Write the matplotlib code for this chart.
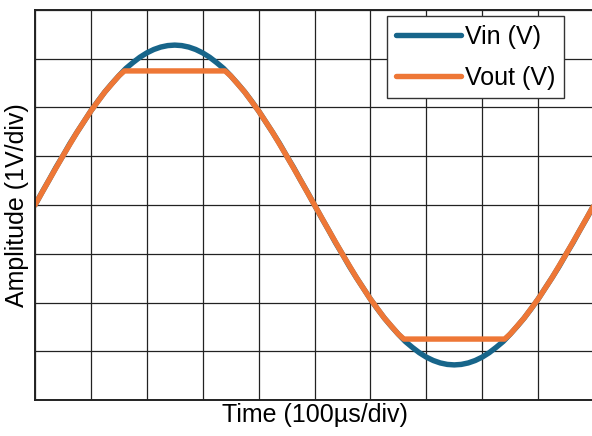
import matplotlib.pyplot as plt

plt.rcParams['font.family'] = ['Liberation Sans', 'DejaVu Sans']

# Time in divisions (100us/div), amplitude in divisions (1V/div)
t_in = [0, 0.125, 0.25, 0.375, 0.5, 0.625, 0.75, 0.875, 1.0, 1.125, 1.25, 1.375, 1.5, 1.625,
        1.75, 1.875, 2.0, 2.125, 2.25, 2.375, 2.5, 2.625, 2.75, 2.875, 3.0, 3.125, 3.25, 3.375,
        3.5, 3.625, 3.75, 3.875, 4.0, 4.125, 4.25, 4.375, 4.5, 4.625, 4.75, 4.875, 5.0,
        5.125, 5.25, 5.375, 5.5, 5.625, 5.75, 5.875, 6.0, 6.125, 6.25, 6.375, 6.5, 6.625,
        6.75, 6.875, 7.0, 7.125, 7.25, 7.375, 7.5, 7.625, 7.75, 7.875, 8.0, 8.125, 8.25, 8.375,
        8.5, 8.625, 8.75, 8.875, 9.0, 9.125, 9.25, 9.375, 9.5, 9.625, 9.75, 9.875, 10.0]
vin = [0, 0.26, 0.51, 0.77, 1.01, 1.26, 1.49, 1.71, 1.93, 2.13, 2.32, 2.49, 2.65, 2.80,
       2.92, 3.03, 3.12, 3.19, 3.24, 3.27, 3.28, 3.27, 3.24, 3.19, 3.12, 3.03, 2.92, 2.80,
       2.65, 2.49, 2.32, 2.13, 1.93, 1.71, 1.49, 1.26, 1.01, 0.77, 0.51, 0.26, 0,
       -0.26, -0.51, -0.77, -1.01, -1.26, -1.49, -1.71, -1.93, -2.13, -2.32, -2.49, -2.65, -2.80,
       -2.92, -3.03, -3.12, -3.19, -3.24, -3.27, -3.28, -3.27, -3.24, -3.19, -3.12, -3.03, -2.92, -2.80,
       -2.65, -2.49, -2.32, -2.13, -1.93, -1.71, -1.49, -1.26, -1.01, -0.77, -0.51, -0.26, 0]

t_out = [0, 0.25, 0.5, 0.75, 1.0, 1.25, 1.5, 1.6, 3.4, 3.5, 3.75, 4.0, 4.25, 4.5, 4.75,
         5.0, 5.25, 5.5, 5.75, 6.0, 6.25, 6.5, 6.6, 8.4, 8.5, 8.75, 9.0, 9.25, 9.5, 9.75, 10.0]
vout = [0, 0.51, 1.01, 1.49, 1.93, 2.32, 2.65, 2.75, 2.75, 2.65, 2.32, 1.93, 1.49, 1.01, 0.51,
        0, -0.51, -1.01, -1.49, -1.93, -2.32, -2.65, -2.75, -2.75, -2.65, -2.32, -1.93, -1.49, -1.01, -0.51, 0]

fig = plt.figure(figsize=(5.92, 4.36), dpi=100)
ax = fig.add_axes([35 / 592, 36 / 436, 559 / 592, 390 / 436])

ax.plot(t_in, vin, color='#17658a', lw=3.9, solid_capstyle='round', label='Vin (V)')
ax.plot(t_out, vout, color='#ee7736', lw=3.9, solid_capstyle='round', label='Vout (V)')

ax.set_xlim(0, 10)
ax.set_ylim(-4, 4)
ax.set_xticks(range(0, 11))
ax.set_yticks(range(-4, 5))
ax.tick_params(length=0, labelbottom=False, labelleft=False)
ax.grid(True, color='#222222', lw=0.9)
ax.set_axisbelow(True)
for s in ax.spines.values():
    s.set_linewidth(1.4)
    s.set_color('#222222')

ax.set_xlabel('Time (100µs/div)', fontsize=18, labelpad=2)
ax.set_ylabel('Amplitude (1V/div)', fontsize=18, labelpad=4)

leg = ax.legend(loc='upper right', bbox_to_anchor=(0.946, 0.985), fontsize=18,
                fancybox=False, framealpha=1, edgecolor='#333333',
                handlelength=2.6, handletextpad=0.15, labelspacing=0.68,
                borderpad=0.35, borderaxespad=0)
leg.get_frame().set_linewidth(1.0)

plt.savefig('out.png', dpi=100)
